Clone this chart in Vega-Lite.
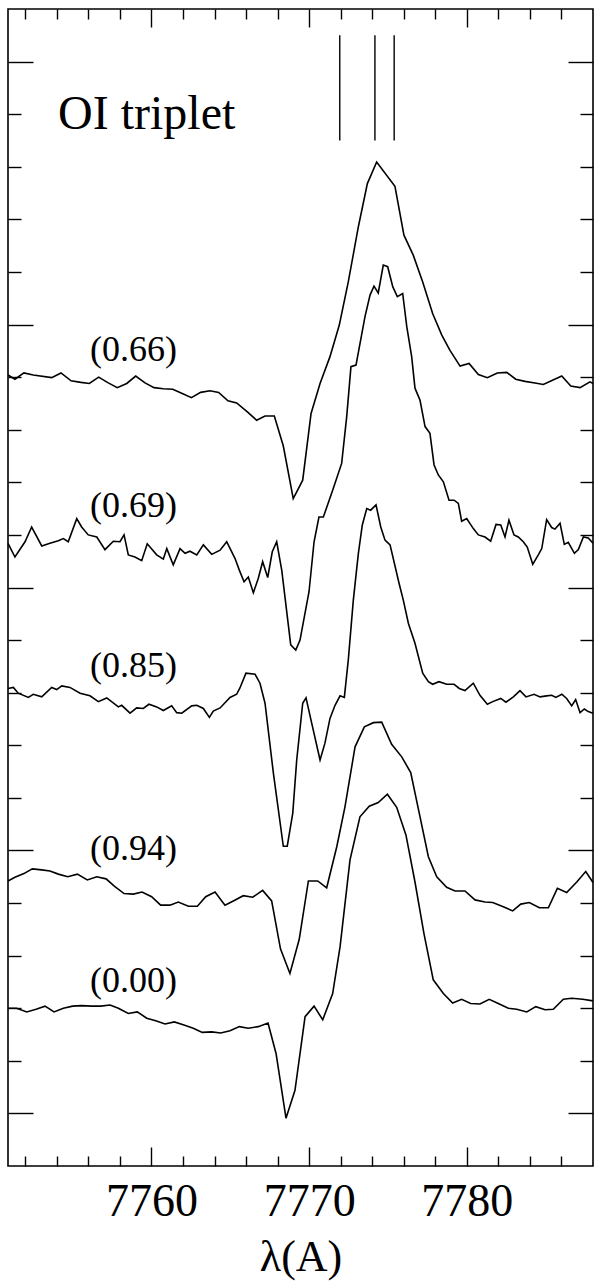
{
  "$schema": "https://vega.github.io/schema/vega-lite/v6.json",
  "width": 585,
  "height": 1157,
  "autosize": {"type": "none"},
  "padding": {"left": 8, "top": 9, "right": 7, "bottom": 120},
  "background": "white",
  "config": {
    "view": {"stroke": "black", "strokeWidth": 1.6},
    "axis": {"grid": false, "domain": false, "tickColor": "black", "tickWidth": 1.4, "labelFont": "Liberation Serif", "titleFont": "Liberation Serif", "labelColor": "black", "titleColor": "black", "labelFlush": false, "labelOverlap": false}
  },
  "datasets": {
    "spectra": [
      {"phase":"0.66","lam":7750.90,"flux":1.404},{"phase":"0.66","lam":7751.34,"flux":1.396},{"phase":"0.66","lam":7751.91,"flux":1.408},{"phase":"0.66","lam":7752.50,"flux":1.404},{"phase":"0.66","lam":7753.67,"flux":1.399},{"phase":"0.66","lam":7754.26,"flux":1.408},{"phase":"0.66","lam":7754.90,"flux":1.393},{"phase":"0.66","lam":7755.53,"flux":1.390},{"phase":"0.66","lam":7756.06,"flux":1.388},{"phase":"0.66","lam":7756.65,"flux":1.400},{"phase":"0.66","lam":7757.26,"flux":1.389},{"phase":"0.66","lam":7757.83,"flux":1.380},{"phase":"0.66","lam":7758.43,"flux":1.388},{"phase":"0.66","lam":7759.00,"flux":1.402},{"phase":"0.66","lam":7759.59,"flux":1.389},{"phase":"0.66","lam":7760.16,"flux":1.380},{"phase":"0.66","lam":7760.75,"flux":1.378},{"phase":"0.66","lam":7761.35,"flux":1.377},{"phase":"0.66","lam":7761.95,"flux":1.369},{"phase":"0.66","lam":7762.53,"flux":1.361},{"phase":"0.66","lam":7763.12,"flux":1.371},{"phase":"0.66","lam":7763.71,"flux":1.374},{"phase":"0.66","lam":7764.26,"flux":1.371},{"phase":"0.66","lam":7764.85,"flux":1.355},{"phase":"0.66","lam":7765.40,"flux":1.351},{"phase":"0.66","lam":7766.08,"flux":1.334},{"phase":"0.66","lam":7766.67,"flux":1.318},{"phase":"0.66","lam":7767.20,"flux":1.326},{"phase":"0.66","lam":7767.79,"flux":1.326},{"phase":"0.66","lam":7768.36,"flux":1.269},{"phase":"0.66","lam":7768.99,"flux":1.169},{"phase":"0.66","lam":7769.59,"flux":1.204},{"phase":"0.66","lam":7770.12,"flux":1.331},{"phase":"0.66","lam":7770.69,"flux":1.388},{"phase":"0.66","lam":7771.32,"flux":1.439},{"phase":"0.66","lam":7771.91,"flux":1.499},{"phase":"0.66","lam":7772.48,"flux":1.581},{"phase":"0.66","lam":7773.12,"flux":1.686},{"phase":"0.66","lam":7773.69,"flux":1.768},{"phase":"0.66","lam":7774.28,"flux":1.809},{"phase":"0.66","lam":7775.44,"flux":1.763},{"phase":"0.66","lam":7776.01,"flux":1.670},{"phase":"0.66","lam":7776.60,"flux":1.632},{"phase":"0.66","lam":7777.20,"flux":1.581},{"phase":"0.66","lam":7777.83,"flux":1.521},{"phase":"0.66","lam":7778.41,"flux":1.480},{"phase":"0.66","lam":7778.93,"flux":1.451},{"phase":"0.66","lam":7779.57,"flux":1.421},{"phase":"0.66","lam":7780.14,"flux":1.426},{"phase":"0.66","lam":7780.73,"flux":1.405},{"phase":"0.66","lam":7781.30,"flux":1.399},{"phase":"0.66","lam":7781.93,"flux":1.408},{"phase":"0.66","lam":7782.53,"flux":1.409},{"phase":"0.66","lam":7783.10,"flux":1.396},{"phase":"0.66","lam":7783.69,"flux":1.392},{"phase":"0.66","lam":7784.32,"flux":1.389},{"phase":"0.66","lam":7784.85,"flux":1.386},{"phase":"0.66","lam":7785.43,"flux":1.394},{"phase":"0.66","lam":7786.02,"flux":1.402},{"phase":"0.66","lam":7786.59,"flux":1.383},{"phase":"0.66","lam":7787.18,"flux":1.380},{"phase":"0.66","lam":7787.81,"flux":1.391},{"phase":"0.66","lam":7788.00,"flux":1.388},
      {"phase":"0.69","lam":7750.90,"flux":1.084},{"phase":"0.69","lam":7751.34,"flux":1.058},{"phase":"0.69","lam":7751.98,"flux":1.087},{"phase":"0.69","lam":7752.40,"flux":1.115},{"phase":"0.69","lam":7753.04,"flux":1.079},{"phase":"0.69","lam":7753.56,"flux":1.084},{"phase":"0.69","lam":7754.09,"flux":1.089},{"phase":"0.69","lam":7754.41,"flux":1.093},{"phase":"0.69","lam":7754.72,"flux":1.087},{"phase":"0.69","lam":7755.26,"flux":1.131},{"phase":"0.69","lam":7755.57,"flux":1.115},{"phase":"0.69","lam":7755.99,"flux":1.100},{"phase":"0.69","lam":7756.53,"flux":1.096},{"phase":"0.69","lam":7757.05,"flux":1.072},{"phase":"0.69","lam":7757.58,"flux":1.088},{"phase":"0.69","lam":7758.00,"flux":1.087},{"phase":"0.69","lam":7758.26,"flux":1.100},{"phase":"0.69","lam":7758.53,"flux":1.062},{"phase":"0.69","lam":7758.95,"flux":1.058},{"phase":"0.69","lam":7759.38,"flux":1.051},{"phase":"0.69","lam":7759.73,"flux":1.083},{"phase":"0.69","lam":7760.33,"flux":1.062},{"phase":"0.69","lam":7760.75,"flux":1.054},{"phase":"0.69","lam":7760.97,"flux":1.074},{"phase":"0.69","lam":7761.38,"flux":1.043},{"phase":"0.69","lam":7761.81,"flux":1.074},{"phase":"0.69","lam":7762.13,"flux":1.065},{"phase":"0.69","lam":7762.44,"flux":1.069},{"phase":"0.69","lam":7762.87,"flux":1.062},{"phase":"0.69","lam":7763.29,"flux":1.081},{"phase":"0.69","lam":7763.82,"flux":1.063},{"phase":"0.69","lam":7764.35,"flux":1.071},{"phase":"0.69","lam":7764.77,"flux":1.087},{"phase":"0.69","lam":7765.30,"flux":1.055},{"phase":"0.69","lam":7765.57,"flux":1.033},{"phase":"0.69","lam":7765.87,"flux":1.011},{"phase":"0.69","lam":7766.14,"flux":1.020},{"phase":"0.69","lam":7766.46,"flux":0.990},{"phase":"0.69","lam":7766.77,"flux":1.017},{"phase":"0.69","lam":7767.05,"flux":1.049},{"phase":"0.69","lam":7767.37,"flux":1.019},{"phase":"0.69","lam":7767.66,"flux":1.068},{"phase":"0.69","lam":7767.94,"flux":1.087},{"phase":"0.69","lam":7768.26,"flux":1.033},{"phase":"0.69","lam":7768.83,"flux":0.891},{"phase":"0.69","lam":7769.15,"flux":0.881},{"phase":"0.69","lam":7769.42,"flux":0.900},{"phase":"0.69","lam":7769.99,"flux":0.992},{"phase":"0.69","lam":7770.31,"flux":1.087},{"phase":"0.69","lam":7770.62,"flux":1.134},{"phase":"0.69","lam":7770.90,"flux":1.134},{"phase":"0.69","lam":7771.49,"flux":1.185},{"phase":"0.69","lam":7772.06,"flux":1.236},{"phase":"0.69","lam":7772.38,"flux":1.325},{"phase":"0.69","lam":7772.65,"flux":1.420},{"phase":"0.69","lam":7772.97,"flux":1.423},{"phase":"0.69","lam":7773.54,"flux":1.515},{"phase":"0.69","lam":7773.86,"flux":1.556},{"phase":"0.69","lam":7774.11,"flux":1.573},{"phase":"0.69","lam":7774.38,"flux":1.560},{"phase":"0.69","lam":7774.70,"flux":1.613},{"phase":"0.69","lam":7774.98,"flux":1.610},{"phase":"0.69","lam":7775.30,"flux":1.572},{"phase":"0.69","lam":7775.59,"flux":1.553},{"phase":"0.69","lam":7775.93,"flux":1.559},{"phase":"0.69","lam":7776.19,"flux":1.496},{"phase":"0.69","lam":7776.50,"flux":1.439},{"phase":"0.69","lam":7776.71,"flux":1.379},{"phase":"0.69","lam":7777.03,"flux":1.356},{"phase":"0.69","lam":7777.35,"flux":1.306},{"phase":"0.69","lam":7777.66,"flux":1.293},{"phase":"0.69","lam":7777.92,"flux":1.233},{"phase":"0.69","lam":7778.19,"flux":1.214},{"phase":"0.69","lam":7778.51,"flux":1.201},{"phase":"0.69","lam":7778.87,"flux":1.166},{"phase":"0.69","lam":7779.19,"flux":1.166},{"phase":"0.69","lam":7779.46,"flux":1.160},{"phase":"0.69","lam":7779.67,"flux":1.126},{"phase":"0.69","lam":7779.99,"flux":1.131},{"phase":"0.69","lam":7780.41,"flux":1.112},{"phase":"0.69","lam":7780.73,"flux":1.100},{"phase":"0.69","lam":7781.15,"flux":1.096},{"phase":"0.69","lam":7781.51,"flux":1.088},{"phase":"0.69","lam":7781.85,"flux":1.120},{"phase":"0.69","lam":7782.15,"flux":1.119},{"phase":"0.69","lam":7782.42,"flux":1.096},{"phase":"0.69","lam":7782.67,"flux":1.128},{"phase":"0.69","lam":7782.99,"flux":1.100},{"phase":"0.69","lam":7783.26,"flux":1.096},{"phase":"0.69","lam":7783.58,"flux":1.087},{"phase":"0.69","lam":7783.83,"flux":1.077},{"phase":"0.69","lam":7784.18,"flux":1.044},{"phase":"0.69","lam":7784.53,"flux":1.062},{"phase":"0.69","lam":7784.75,"flux":1.074},{"phase":"0.69","lam":7785.06,"flux":1.129},{"phase":"0.69","lam":7785.38,"flux":1.114},{"phase":"0.69","lam":7785.59,"flux":1.111},{"phase":"0.69","lam":7785.91,"flux":1.122},{"phase":"0.69","lam":7786.18,"flux":1.082},{"phase":"0.69","lam":7786.43,"flux":1.086},{"phase":"0.69","lam":7786.82,"flux":1.065},{"phase":"0.69","lam":7787.07,"flux":1.072},{"phase":"0.69","lam":7787.39,"flux":1.096},{"phase":"0.69","lam":7787.70,"flux":1.094},{"phase":"0.69","lam":7788.00,"flux":1.084},
      {"phase":"0.85","lam":7750.90,"flux":0.808},{"phase":"0.85","lam":7751.24,"flux":0.810},{"phase":"0.85","lam":7751.55,"flux":0.799},{"phase":"0.85","lam":7752.19,"flux":0.791},{"phase":"0.85","lam":7752.50,"flux":0.797},{"phase":"0.85","lam":7753.04,"flux":0.792},{"phase":"0.85","lam":7753.67,"flux":0.810},{"phase":"0.85","lam":7753.99,"flux":0.806},{"phase":"0.85","lam":7754.31,"flux":0.813},{"phase":"0.85","lam":7754.83,"flux":0.810},{"phase":"0.85","lam":7755.47,"flux":0.799},{"phase":"0.85","lam":7756.10,"flux":0.794},{"phase":"0.85","lam":7756.63,"flux":0.783},{"phase":"0.85","lam":7757.16,"flux":0.790},{"phase":"0.85","lam":7757.90,"flux":0.773},{"phase":"0.85","lam":7758.11,"flux":0.776},{"phase":"0.85","lam":7758.64,"flux":0.761},{"phase":"0.85","lam":7759.06,"flux":0.771},{"phase":"0.85","lam":7759.48,"flux":0.770},{"phase":"0.85","lam":7759.84,"flux":0.778},{"phase":"0.85","lam":7760.33,"flux":0.773},{"phase":"0.85","lam":7760.75,"flux":0.766},{"phase":"0.85","lam":7761.28,"flux":0.775},{"phase":"0.85","lam":7761.60,"flux":0.762},{"phase":"0.85","lam":7761.92,"flux":0.761},{"phase":"0.85","lam":7762.55,"flux":0.775},{"phase":"0.85","lam":7762.87,"flux":0.776},{"phase":"0.85","lam":7763.29,"flux":0.770},{"phase":"0.85","lam":7763.67,"flux":0.753},{"phase":"0.85","lam":7763.92,"flux":0.765},{"phase":"0.85","lam":7764.35,"flux":0.771},{"phase":"0.85","lam":7764.98,"flux":0.791},{"phase":"0.85","lam":7765.40,"flux":0.797},{"phase":"0.85","lam":7765.61,"flux":0.809},{"phase":"0.85","lam":7765.99,"flux":0.837},{"phase":"0.85","lam":7766.57,"flux":0.835},{"phase":"0.85","lam":7766.88,"flux":0.818},{"phase":"0.85","lam":7767.20,"flux":0.780},{"phase":"0.85","lam":7767.73,"flux":0.647},{"phase":"0.85","lam":7768.36,"flux":0.508},{"phase":"0.85","lam":7768.61,"flux":0.508},{"phase":"0.85","lam":7768.96,"flux":0.571},{"phase":"0.85","lam":7769.21,"flux":0.672},{"phase":"0.85","lam":7769.59,"flux":0.780},{"phase":"0.85","lam":7769.80,"flux":0.790},{"phase":"0.85","lam":7770.16,"flux":0.742},{"phase":"0.85","lam":7770.69,"flux":0.672},{"phase":"0.85","lam":7771.00,"flux":0.704},{"phase":"0.85","lam":7771.32,"flux":0.751},{"phase":"0.85","lam":7771.64,"flux":0.776},{"phase":"0.85","lam":7771.96,"flux":0.794},{"phase":"0.85","lam":7772.23,"flux":0.791},{"phase":"0.85","lam":7772.48,"flux":0.862},{"phase":"0.85","lam":7772.80,"flux":0.976},{"phase":"0.85","lam":7773.12,"flux":1.065},{"phase":"0.85","lam":7773.37,"flux":1.119},{"phase":"0.85","lam":7773.65,"flux":1.150},{"phase":"0.85","lam":7773.90,"flux":1.147},{"phase":"0.85","lam":7774.24,"flux":1.157},{"phase":"0.85","lam":7774.54,"flux":1.115},{"phase":"0.85","lam":7774.81,"flux":1.090},{"phase":"0.85","lam":7775.13,"flux":1.081},{"phase":"0.85","lam":7775.70,"flux":1.008},{"phase":"0.85","lam":7775.97,"flux":0.976},{"phase":"0.85","lam":7776.29,"flux":0.932},{"phase":"0.85","lam":7776.71,"flux":0.894},{"phase":"0.85","lam":7777.20,"flux":0.837},{"phase":"0.85","lam":7777.56,"flux":0.821},{"phase":"0.85","lam":7777.83,"flux":0.816},{"phase":"0.85","lam":7778.23,"flux":0.821},{"phase":"0.85","lam":7778.72,"flux":0.816},{"phase":"0.85","lam":7779.19,"flux":0.816},{"phase":"0.85","lam":7779.52,"flux":0.808},{"phase":"0.85","lam":7779.88,"flux":0.804},{"phase":"0.85","lam":7780.41,"flux":0.818},{"phase":"0.85","lam":7780.83,"flux":0.795},{"phase":"0.85","lam":7781.30,"flux":0.778},{"phase":"0.85","lam":7781.64,"flux":0.783},{"phase":"0.85","lam":7782.15,"flux":0.789},{"phase":"0.85","lam":7782.48,"flux":0.782},{"phase":"0.85","lam":7782.95,"flux":0.792},{"phase":"0.85","lam":7783.37,"flux":0.804},{"phase":"0.85","lam":7783.75,"flux":0.792},{"phase":"0.85","lam":7784.26,"flux":0.797},{"phase":"0.85","lam":7784.64,"flux":0.792},{"phase":"0.85","lam":7785.06,"flux":0.794},{"phase":"0.85","lam":7785.38,"flux":0.795},{"phase":"0.85","lam":7785.65,"flux":0.791},{"phase":"0.85","lam":7786.02,"flux":0.797},{"phase":"0.85","lam":7786.33,"flux":0.789},{"phase":"0.85","lam":7786.65,"flux":0.775},{"phase":"0.85","lam":7786.90,"flux":0.787},{"phase":"0.85","lam":7787.18,"flux":0.762},{"phase":"0.85","lam":7787.45,"flux":0.769},{"phase":"0.85","lam":7787.70,"flux":0.764},{"phase":"0.85","lam":7788.00,"flux":0.761},
      {"phase":"0.94","lam":7750.90,"flux":0.442},{"phase":"0.94","lam":7751.34,"flux":0.449},{"phase":"0.94","lam":7751.91,"flux":0.456},{"phase":"0.94","lam":7752.44,"flux":0.465},{"phase":"0.94","lam":7753.04,"flux":0.463},{"phase":"0.94","lam":7753.56,"flux":0.461},{"phase":"0.94","lam":7754.09,"flux":0.455},{"phase":"0.94","lam":7754.69,"flux":0.450},{"phase":"0.94","lam":7755.30,"flux":0.455},{"phase":"0.94","lam":7755.93,"flux":0.444},{"phase":"0.94","lam":7756.53,"flux":0.450},{"phase":"0.94","lam":7757.12,"flux":0.446},{"phase":"0.94","lam":7757.64,"flux":0.432},{"phase":"0.94","lam":7758.26,"flux":0.418},{"phase":"0.94","lam":7758.85,"flux":0.417},{"phase":"0.94","lam":7759.40,"flux":0.421},{"phase":"0.94","lam":7760.01,"flux":0.412},{"phase":"0.94","lam":7760.58,"flux":0.396},{"phase":"0.94","lam":7761.17,"flux":0.396},{"phase":"0.94","lam":7761.70,"flux":0.402},{"phase":"0.94","lam":7762.34,"flux":0.394},{"phase":"0.94","lam":7762.91,"flux":0.394},{"phase":"0.94","lam":7763.44,"flux":0.412},{"phase":"0.94","lam":7764.03,"flux":0.421},{"phase":"0.94","lam":7764.66,"flux":0.396},{"phase":"0.94","lam":7765.19,"flux":0.404},{"phase":"0.94","lam":7765.82,"flux":0.414},{"phase":"0.94","lam":7766.42,"flux":0.411},{"phase":"0.94","lam":7767.05,"flux":0.424},{"phase":"0.94","lam":7767.62,"flux":0.404},{"phase":"0.94","lam":7768.18,"flux":0.313},{"phase":"0.94","lam":7768.78,"flux":0.266},{"phase":"0.94","lam":7769.37,"flux":0.331},{"phase":"0.94","lam":7769.95,"flux":0.442},{"phase":"0.94","lam":7770.54,"flux":0.442},{"phase":"0.94","lam":7771.11,"flux":0.429},{"phase":"0.94","lam":7771.75,"flux":0.507},{"phase":"0.94","lam":7772.27,"flux":0.583},{"phase":"0.94","lam":7772.91,"flux":0.697},{"phase":"0.94","lam":7773.50,"flux":0.735},{"phase":"0.94","lam":7774.07,"flux":0.743},{"phase":"0.94","lam":7774.60,"flux":0.744},{"phase":"0.94","lam":7775.23,"flux":0.702},{"phase":"0.94","lam":7775.87,"flux":0.678},{"phase":"0.94","lam":7776.44,"flux":0.648},{"phase":"0.94","lam":7777.03,"flux":0.564},{"phase":"0.94","lam":7777.56,"flux":0.488},{"phase":"0.94","lam":7778.09,"flux":0.450},{"phase":"0.94","lam":7778.72,"flux":0.430},{"phase":"0.94","lam":7779.25,"flux":0.423},{"phase":"0.94","lam":7779.88,"flux":0.423},{"phase":"0.94","lam":7780.52,"flux":0.406},{"phase":"0.94","lam":7781.15,"flux":0.402},{"phase":"0.94","lam":7781.64,"flux":0.401},{"phase":"0.94","lam":7782.31,"flux":0.393},{"phase":"0.94","lam":7782.91,"flux":0.385},{"phase":"0.94","lam":7783.42,"flux":0.398},{"phase":"0.94","lam":7783.96,"flux":0.401},{"phase":"0.94","lam":7784.60,"flux":0.391},{"phase":"0.94","lam":7785.17,"flux":0.391},{"phase":"0.94","lam":7785.74,"flux":0.428},{"phase":"0.94","lam":7786.33,"flux":0.420},{"phase":"0.94","lam":7786.97,"flux":0.440},{"phase":"0.94","lam":7787.54,"flux":0.460},{"phase":"0.94","lam":7788.00,"flux":0.439},
      {"phase":"0.00","lam":7750.90,"flux":0.200},{"phase":"0.00","lam":7751.45,"flux":0.200},{"phase":"0.00","lam":7752.09,"flux":0.193},{"phase":"0.00","lam":7752.68,"flux":0.198},{"phase":"0.00","lam":7753.25,"flux":0.204},{"phase":"0.00","lam":7753.82,"flux":0.193},{"phase":"0.00","lam":7754.41,"flux":0.200},{"phase":"0.00","lam":7755.00,"flux":0.204},{"phase":"0.00","lam":7755.57,"flux":0.205},{"phase":"0.00","lam":7756.21,"flux":0.204},{"phase":"0.00","lam":7756.78,"flux":0.204},{"phase":"0.00","lam":7757.37,"flux":0.206},{"phase":"0.00","lam":7757.90,"flux":0.200},{"phase":"0.00","lam":7758.53,"flux":0.190},{"phase":"0.00","lam":7759.10,"flux":0.193},{"phase":"0.00","lam":7759.70,"flux":0.181},{"phase":"0.00","lam":7760.27,"flux":0.176},{"phase":"0.00","lam":7760.86,"flux":0.170},{"phase":"0.00","lam":7761.45,"flux":0.174},{"phase":"0.00","lam":7762.06,"flux":0.168},{"phase":"0.00","lam":7762.65,"flux":0.162},{"phase":"0.00","lam":7763.22,"flux":0.154},{"phase":"0.00","lam":7763.82,"flux":0.155},{"phase":"0.00","lam":7764.39,"flux":0.153},{"phase":"0.00","lam":7764.98,"flux":0.157},{"phase":"0.00","lam":7765.57,"flux":0.165},{"phase":"0.00","lam":7766.14,"flux":0.162},{"phase":"0.00","lam":7766.77,"flux":0.165},{"phase":"0.00","lam":7767.39,"flux":0.172},{"phase":"0.00","lam":7767.90,"flux":0.114},{"phase":"0.00","lam":7768.53,"flux":-0.009},{"phase":"0.00","lam":7769.10,"flux":0.044},{"phase":"0.00","lam":7769.74,"flux":0.184},{"phase":"0.00","lam":7770.31,"flux":0.204},{"phase":"0.00","lam":7770.86,"flux":0.178},{"phase":"0.00","lam":7771.49,"flux":0.228},{"phase":"0.00","lam":7771.96,"flux":0.317},{"phase":"0.00","lam":7772.59,"flux":0.482},{"phase":"0.00","lam":7773.22,"flux":0.564},{"phase":"0.00","lam":7773.81,"flux":0.584},{"phase":"0.00","lam":7774.38,"flux":0.591},{"phase":"0.00","lam":7774.96,"flux":0.607},{"phase":"0.00","lam":7775.55,"flux":0.582},{"phase":"0.00","lam":7776.14,"flux":0.529},{"phase":"0.00","lam":7776.71,"flux":0.440},{"phase":"0.00","lam":7777.28,"flux":0.342},{"phase":"0.00","lam":7777.87,"flux":0.254},{"phase":"0.00","lam":7778.51,"flux":0.228},{"phase":"0.00","lam":7779.10,"flux":0.210},{"phase":"0.00","lam":7779.67,"flux":0.217},{"phase":"0.00","lam":7780.24,"flux":0.209},{"phase":"0.00","lam":7780.83,"flux":0.208},{"phase":"0.00","lam":7781.42,"flux":0.217},{"phase":"0.00","lam":7782.06,"flux":0.208},{"phase":"0.00","lam":7782.63,"flux":0.200},{"phase":"0.00","lam":7783.16,"flux":0.198},{"phase":"0.00","lam":7783.80,"flux":0.193},{"phase":"0.00","lam":7784.37,"flux":0.203},{"phase":"0.00","lam":7784.96,"flux":0.197},{"phase":"0.00","lam":7785.48,"flux":0.198},{"phase":"0.00","lam":7786.12,"flux":0.217},{"phase":"0.00","lam":7786.65,"flux":0.219},{"phase":"0.00","lam":7787.35,"flux":0.217},{"phase":"0.00","lam":7788.00,"flux":0.214}
    ],
    "triplet": [
      {"line":"7771.94","lam":7771.94,"top":2.05,"bottom":1.85},
      {"line":"7774.17","lam":7774.17,"top":2.05,"bottom":1.85},
      {"line":"7775.39","lam":7775.39,"top":2.05,"bottom":1.85}
    ],
    "phaseLabels": [
      {"label":"(0.66)","lam":7756.1,"flux":1.430},
      {"label":"(0.69)","lam":7756.1,"flux":1.134},
      {"label":"(0.85)","lam":7756.1,"flux":0.830},
      {"label":"(0.94)","lam":7756.1,"flux":0.482},
      {"label":"(0.00)","lam":7756.1,"flux":0.231}
    ],
    "title": [
      {"label":"OI triplet","lam":7754.07,"flux":1.871}
    ]
  },
  "resolve": {"axis": {"x": "independent", "y": "independent"}},
  "layer": [
    {
      "data": {"name": "spectra"},
      "mark": {"type": "line", "color": "black", "strokeWidth": 1.6},
      "encoding": {
        "x": {"field": "lam", "type": "quantitative", "scale": {"domain": [7750.9, 7788], "nice": false, "zero": false},
              "axis": {"orient": "bottom", "values": [7760, 7770, 7780], "format": "d", "tickSize": -19, "labelFontSize": 46, "labelPadding": 68, "labelBaseline": "alphabetic", "title": "λ(A)", "titleFontSize": 44, "titleFontWeight": "normal", "titleY": 104, "titleBaseline": "alphabetic"}},
        "y": {"field": "flux", "type": "quantitative", "scale": {"domain": [-0.1, 2.1], "nice": false, "zero": false},
              "axis": {"orient": "left", "values": [0, 0.5, 1, 1.5, 2], "tickSize": -25, "labels": false, "title": null}},
        "detail": {"field": "phase", "type": "nominal"}
      }
    },
    {
      "data": {"name": "triplet"},
      "mark": {"type": "rule", "color": "black", "strokeWidth": 1.4},
      "encoding": {
        "x": {"field": "lam", "type": "quantitative", "scale": {"domain": [7750.9, 7788], "nice": false, "zero": false},
              "axis": {"orient": "bottom", "values": [7752, 7754, 7756, 7758, 7762, 7764, 7766, 7768, 7772, 7774, 7776, 7778, 7782, 7784, 7786], "tickSize": -10, "labels": false, "title": null}},
        "y": {"field": "top", "type": "quantitative", "scale": {"domain": [-0.1, 2.1], "nice": false, "zero": false},
              "axis": {"orient": "left", "values": [0.1, 0.2, 0.3, 0.4, 0.6, 0.7, 0.8, 0.9, 1.1, 1.2, 1.3, 1.4, 1.6, 1.7, 1.8, 1.9], "tickSize": -13, "labels": false, "title": null}},
        "y2": {"field": "bottom"}
      }
    },
    {
      "data": {"name": "phaseLabels"},
      "mark": {"type": "text", "align": "left", "baseline": "alphabetic", "font": "Liberation Serif", "fontSize": 36, "color": "black"},
      "encoding": {
        "x": {"field": "lam", "type": "quantitative", "scale": {"domain": [7750.9, 7788], "nice": false, "zero": false},
              "axis": {"orient": "top", "values": [7760, 7770, 7780], "tickSize": -18, "labels": false, "title": null}},
        "y": {"field": "flux", "type": "quantitative", "scale": {"domain": [-0.1, 2.1], "nice": false, "zero": false},
              "axis": {"orient": "right", "values": [0, 0.5, 1, 1.5, 2], "tickSize": -25, "labels": false, "title": null}},
        "text": {"field": "label", "type": "nominal"}
      }
    },
    {
      "data": {"name": "title"},
      "mark": {"type": "text", "align": "left", "baseline": "alphabetic", "font": "Liberation Serif", "fontSize": 48, "color": "black"},
      "encoding": {
        "x": {"field": "lam", "type": "quantitative", "scale": {"domain": [7750.9, 7788], "nice": false, "zero": false},
              "axis": {"orient": "top", "values": [7752, 7754, 7756, 7758, 7762, 7764, 7766, 7768, 7772, 7774, 7776, 7778, 7782, 7784, 7786], "tickSize": -10, "labels": false, "title": null}},
        "y": {"field": "flux", "type": "quantitative", "scale": {"domain": [-0.1, 2.1], "nice": false, "zero": false},
              "axis": {"orient": "right", "values": [0.1, 0.2, 0.3, 0.4, 0.6, 0.7, 0.8, 0.9, 1.1, 1.2, 1.3, 1.4, 1.6, 1.7, 1.8, 1.9], "tickSize": -13, "labels": false, "title": null}},
        "text": {"field": "label", "type": "nominal"}
      }
    }
  ]
}
